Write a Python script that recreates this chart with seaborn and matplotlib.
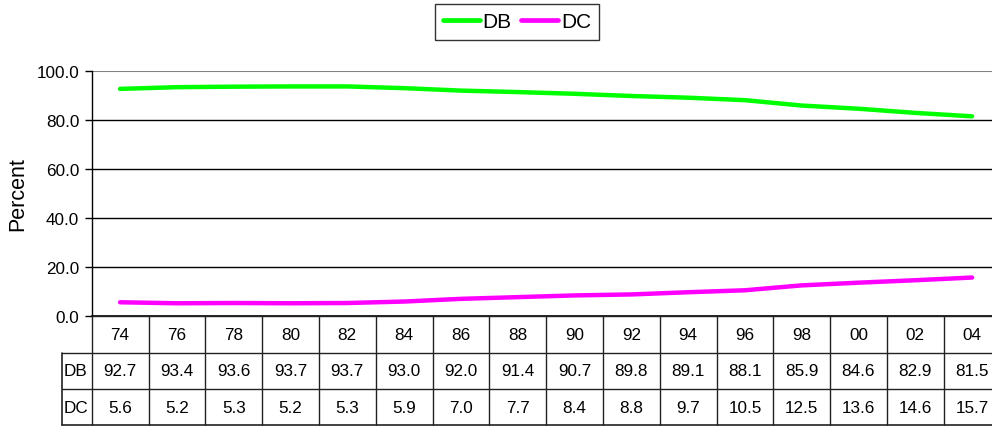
import matplotlib
matplotlib.use("Agg")
import matplotlib.pyplot as plt
import seaborn as sns
import pandas as pd
from matplotlib.lines import Line2D

years = ["74", "76", "78", "80", "82", "84", "86", "88", "90", "92",
         "94", "96", "98", "00", "02", "04"]
db = [92.7, 93.4, 93.6, 93.7, 93.7, 93.0, 92.0, 91.4, 90.7, 89.8,
      89.1, 88.1, 85.9, 84.6, 82.9, 81.5]
dc = [5.6, 5.2, 5.3, 5.2, 5.3, 5.9, 7.0, 7.7, 8.4, 8.8,
      9.7, 10.5, 12.5, 13.6, 14.6, 15.7]
series_names = ["DB", "DC"]
series_colors = ["#00FF00", "#FF00FF"]
y_ticks = [0, 20, 40, 60, 80, 100]

sns.set_theme(style="white")
plt.rcParams["font.family"] = ["Liberation Sans", "DejaVu Sans"]

W, H = 992, 427
fig = plt.figure(figsize=(W / 100, H / 100), dpi=100)


def fx(px):
    return px / W


def fy(py):
    return 1 - py / H


n = len(years)
col_w = 56.8
x_left = 91.7
x_right = x_left + n * col_w
y_top, y_zero = 72.0, 317.0

ax = fig.add_axes([fx(x_left), fy(y_zero), fx(x_right) - fx(x_left), fy(y_top) - fy(y_zero)])

df = pd.DataFrame({
    "idx": list(range(n)) * 2,
    "value": db + dc,
    "series": [series_names[0]] * n + [series_names[1]] * n,
})
sns.lineplot(data=df, x="idx", y="value", hue="series", palette=series_colors,
             linewidth=3.2, ax=ax, legend=False, solid_capstyle="round")

ax.set_xlim(-0.5, n - 0.5)
ax.set_ylim(0, 100)
ax.set_yticks(y_ticks)
ax.set_yticklabels([f"{v:.1f}" for v in y_ticks], fontsize=12.3, color="black")
ax.set_xticks([])
ax.set_xlabel("")
ax.set_ylabel("Percent", fontsize=15.5, labelpad=6, color="black")
ax.tick_params(axis="y", direction="out", length=5, width=1, color="black", pad=4, left=True)
for v in y_ticks[1:-1]:
    ax.axhline(v, color="black", lw=1, zorder=0)
ax.axhline(100, color="#808080", lw=1.5, zorder=0)
for side in ["top", "right"]:
    ax.spines[side].set_visible(False)
ax.spines["left"].set_color("black")
ax.spines["left"].set_linewidth(1)
ax.spines["bottom"].set_color("black")
ax.spines["bottom"].set_linewidth(1.2)
ax.patch.set_alpha(0)

# data table under the plot
row_h = (426.5 - y_zero) / 3
label_w = x_left - 61.7
tx = fig.add_axes([fx(61.7), fy(y_zero + 3 * row_h), fx(x_right) - fx(61.7), fy(y_zero) - fy(y_zero + 3 * row_h)])
tx.set_xlim(-0.5 - label_w / col_w, n - 0.5)
tx.set_ylim(3, 0)
tx.axis("off")
lc = "#222222"
x0 = -0.5 - label_w / col_w
tx.plot([-0.5, n - 0.5], [0, 0], color=lc, lw=1, clip_on=False)
tx.plot([x0, n - 0.5], [1, 1], color=lc, lw=1, clip_on=False)
tx.plot([x0, n - 0.5], [2, 2], color=lc, lw=1, clip_on=False)
tx.plot([x0, n - 0.5], [3, 3], color=lc, lw=1.2, clip_on=False)
tx.plot([x0, x0], [1, 3], color=lc, lw=1.2, clip_on=False)
for i in range(n + 1):
    tx.plot([i - 0.5, i - 0.5], [0, 3], color=lc, lw=1, clip_on=False)
fs = 12.3
for i in range(n):
    tx.text(i, 0.5, years[i], ha="center", va="center", fontsize=fs, color="black")
    tx.text(i, 1.5, f"{db[i]:.1f}", ha="center", va="center", fontsize=fs, color="black")
    tx.text(i, 2.5, f"{dc[i]:.1f}", ha="center", va="center", fontsize=fs, color="black")
tx.text(x0 + 0.04, 1.5, series_names[0], ha="left", va="center", fontsize=fs, color="black")
tx.text(x0 + 0.04, 2.5, series_names[1], ha="left", va="center", fontsize=fs, color="black")

handles = [Line2D([], [], color=c, lw=3.4, solid_capstyle="round") for c in series_colors]
leg = fig.legend(handles, series_names, loc="center", bbox_to_anchor=(fx(517), fy(23)),
                 ncol=2, frameon=True, fancybox=False, fontsize=15, handlelength=1.75,
                 handletextpad=0.15, columnspacing=0.45, borderpad=0.4, borderaxespad=0)
leg.get_frame().set_edgecolor("black")
leg.get_frame().set_linewidth(1)
for t in leg.get_texts():
    t.set_color("black")

fig.savefig("out.png", dpi=100)
